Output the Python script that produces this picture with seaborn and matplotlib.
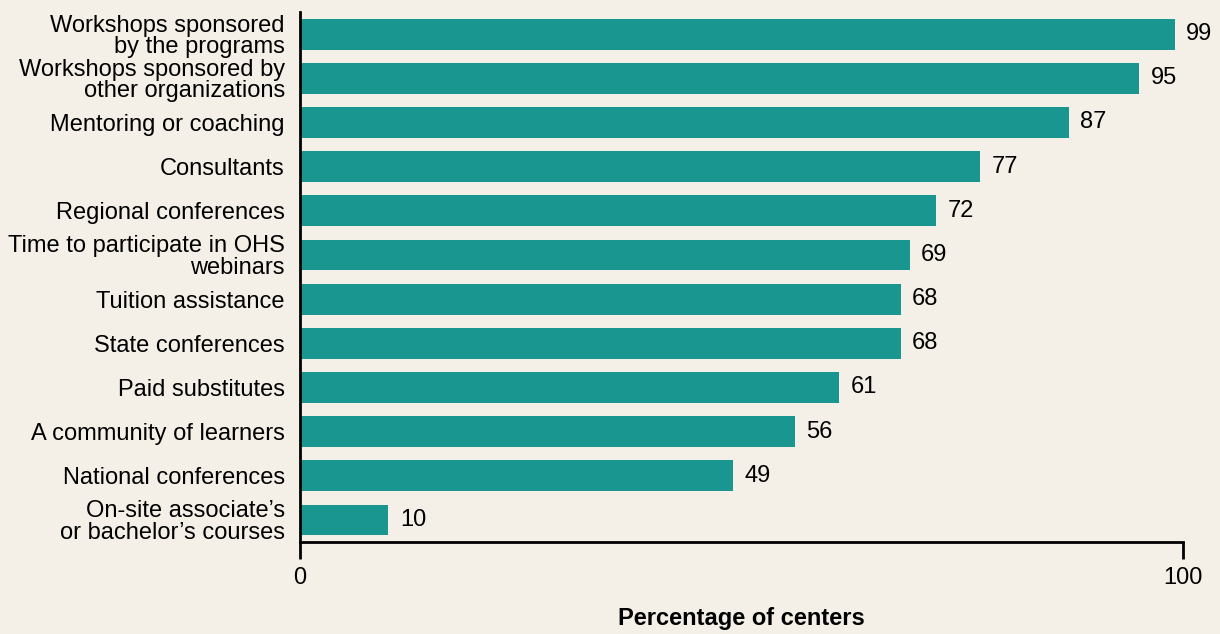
import matplotlib
matplotlib.use("Agg")
import matplotlib.pyplot as plt
import seaborn as sns
import pandas as pd

# Data
categories = [
    "Workshops sponsored\nby the programs",
    "Workshops sponsored by\nother organizations",
    "Mentoring or coaching",
    "Consultants",
    "Regional conferences",
    "Time to participate in OHS\nwebinars",
    "Tuition assistance",
    "State conferences",
    "Paid substitutes",
    "A community of learners",
    "National conferences",
    "On-site associate\u2019s\nor bachelor\u2019s courses",
]
values = [99, 95, 87, 77, 72, 69, 68, 68, 61, 56, 49, 10]

df = pd.DataFrame({"category": categories, "value": values})

bg = "#F4F0E8"
bar_color = "#1A9690"

sns.set_style("white")
plt.rcParams["font.family"] = ["Liberation Sans", "DejaVu Sans"]
plt.rcParams["text.color"] = "black"
plt.rcParams["xtick.color"] = "black"
plt.rcParams["ytick.color"] = "black"
plt.rcParams["axes.labelcolor"] = "black"

fig = plt.figure(figsize=(12.2, 6.34), dpi=100, facecolor=bg)
ax = fig.add_axes([0.246, 0.145, 0.724, 0.836])
ax.set_facecolor(bg)

sns.barplot(data=df, x="value", y="category", color=bar_color, saturation=1,
            width=0.7, linewidth=0, edgecolor="none", ax=ax)

for i, v in enumerate(values):
    ax.text(v + 1.3, i, str(v), va="center", ha="left", fontsize=17, color="black")

ax.set_xlim(0, 100)
ax.set_ylim(11.5, -0.5)
ax.set_xticks([0, 100])
ax.set_xticklabels(["0", "100"], fontsize=17)
ax.tick_params(axis="x", bottom=True, direction="out", length=12, width=2, pad=6)
ax.tick_params(axis="y", left=False, length=0, pad=11, labelsize=17)
for lab in ax.get_yticklabels():
    lab.set_linespacing(0.95)

for s in ["top", "right"]:
    ax.spines[s].set_visible(False)
for s in ["left", "bottom"]:
    ax.spines[s].set_color("black")
    ax.spines[s].set_linewidth(2)

ax.set_ylabel("")
ax.set_xlabel("Percentage of centers", fontsize=17, fontweight="bold", labelpad=13)

fig.savefig("out.png", dpi=100, facecolor=bg)
